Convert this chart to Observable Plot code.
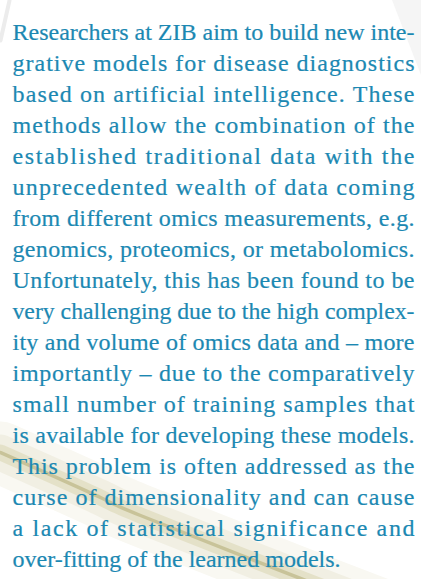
<!DOCTYPE html>
<html><head><meta charset="utf-8">
<script src="https://cdn.jsdelivr.net/npm/d3@7"></script>
<script src="https://cdn.jsdelivr.net/npm/@observablehq/plot@0.6"></script>
<style>
html,body{margin:0;padding:0;background:#fff;}
#wrap{position:relative;width:421px;height:579px;overflow:hidden;background:#fff;}
#wrap svg{position:absolute;left:0;top:0;background:transparent;}
</style></head><body><div id="wrap"></div>
<script>
// Text lines of the paragraph (as printed, justified)
const lines = [
  "Researchers at ZIB aim to build new inte-",
  "grative models for disease diagnostics",
  "based on artificial intelligence. These",
  "methods allow the combination of the",
  "established traditional data with the",
  "unprecedented wealth of data coming",
  "from different omics measurements, e.g.",
  "genomics, proteomics, or metabolomics.",
  "Unfortunately, this has been found to be",
  "very challenging due to the high complex-",
  "ity and volume of omics data and \u2013 more",
  "importantly \u2013 due to the comparatively",
  "small number of training samples that",
  "is available for developing these models.",
  "This problem is often addressed as the",
  "curse of dimensionality and can cause",
  "a lack of statistical significance and",
  "over-fitting of the learned models."
];
const lineIndex = lines.map((d, i) => i);

// Decorative ribbon in the background (page units)
const ribbonX = [0, 100, 140, 300, 430];
const ribbonY = [452, 497, 515, 578, 628];
const ribbonBands = [
  {w: 62, c: "#f9f8f2"},
  {w: 36, c: "#f1efe3"},
  {w: 16, c: "#e4e1c8"},
  {w: 3.5, c: "#c8c399"}
];
// faint grey edges at the top
const edgeTLx = [9, 0];
const edgeTLy = [0, 40];
const edgeTRx = [392, 421];
const edgeTRy = [0, 75];

const ribbon = ribbonX.map((x, i) => ({x, y: ribbonY[i]}));
const edgeTL = edgeTLx.map((x, i) => ({x, y: edgeTLy[i]}));
const edgeTR = edgeTRx.map((x, i) => ({x, y: edgeTRy[i]}));

const W = 421, H = 579;
const wrap = document.getElementById("wrap");

const bg = Plot.plot({
  width: W, height: H, margin: 0,
  x: {domain: [0, W], range: [0, W], axis: null},
  y: {domain: [0, H], range: [0, H], axis: null},
  marks: [
    ...ribbonBands.map(b => Plot.line(ribbon, {x: "x", y: "y", stroke: b.c, strokeWidth: b.w, curve: "natural"})),
    Plot.line(edgeTL, {x: "x", y: "y", stroke: "#ececec", strokeWidth: 4}),
    Plot.areaY(edgeTR, {x: "x", y1: 0, y2: "y", fill: "#f5f5f5"})
  ]
});
wrap.appendChild(bg);

const FONT = 24;
const txt = Plot.plot({
  width: W, height: H, margin: 0,
  y: {type: "point", domain: lineIndex, range: [32, 573], padding: 0, axis: null},
  marks: [
    Plot.text(lines, {
      y: (d, i) => i,
      text: d => d,
      frameAnchor: "left",
      dx: 12,
      textAnchor: "start",
      lineAnchor: "bottom",
      fontSize: FONT,
      fontFamily: "Liberation Serif",
      fill: "#1c88b2",
      stroke: "#1c88b2",
      strokeWidth: 0.2
    })
  ]
});
wrap.appendChild(txt);

// justify all lines except the last one
const target = 402;
const nodes = txt.querySelectorAll("g[aria-label='text'] text");
nodes.forEach((el, i) => {
  if (i === nodes.length - 1) return;
  const w = el.getComputedTextLength();
  el.setAttribute("textLength", target);
  el.setAttribute("lengthAdjust", w > target ? "spacingAndGlyphs" : "spacing");
});
</script>
</body></html>
